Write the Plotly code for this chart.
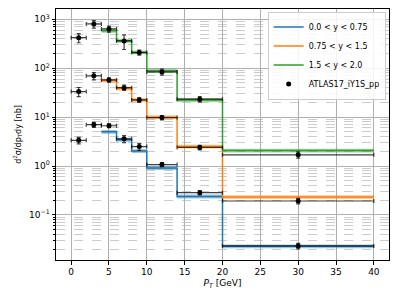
import plotly.graph_objects as go

# Bin edges of the theory histograms
edges = [4, 6, 8, 10, 14, 20, 40]
hist_blue = [5.0, 3.46, 2.02, 0.91, 0.24, 0.023]
hist_orange = [56, 38.4, 22.5, 10.0, 2.5, 0.233]
hist_green = [586, 366, 212, 89, 22.5, 2.08]

# Data points
pt = [1, 3, 5, 7, 9, 12, 17, 30]
pt_err = [1, 1, 1, 1, 1, 2, 3, 10]
data_blue = [3.35, 7.0, 6.67, 3.6, 2.5, 1.07, 0.286, 0.0233]
err_blue = [0.5, 0.8, 0.6, 0.6, 0.4, 0.1, 0.03, 0.003]
data_orange = [33.3, 69.7, 57.7, 40, 22.5, 9.8, 2.4, 0.193]
err_orange = [7, 12, 6, 5, 2.5, 1.0, 0.25, 0.025]
data_green = [421, 802, 634, 361, 209, 84, 23.3, 1.7]
err_green = [90, 140, 90, 120, 25, 12, 3, 0.25]

labels = ["0.0 < y < 0.75", "0.75 < y < 1.5", "1.5 < y < 2.0"]
colors = ["#1f77b4", "#ff7f0e", "#2ca02c"]
bands = ["rgba(31,119,180,0.45)", "rgba(255,127,14,0.45)", "rgba(44,160,44,0.45)"]

fig = go.Figure()

for h, lab, c, b in zip([hist_blue, hist_orange, hist_green], labels, colors, bands):
    y = h + [h[-1]]
    lo = [v * 0.91 for v in y]
    hi = [v * 1.09 for v in y]
    fig.add_trace(go.Scatter(x=edges, y=lo, mode="lines", line=dict(width=0, shape="hv"),
                             showlegend=False, hoverinfo="skip"))
    fig.add_trace(go.Scatter(x=edges, y=hi, mode="lines", line=dict(width=0, shape="hv"),
                             fill="tonexty", fillcolor=b, showlegend=False, hoverinfo="skip"))
    fig.add_trace(go.Scatter(x=edges, y=y, mode="lines", line=dict(color=c, width=1.5, shape="hv"),
                             name=lab))

for i, (d, e) in enumerate([(data_blue, err_blue), (data_orange, err_orange), (data_green, err_green)]):
    fig.add_trace(go.Scatter(
        x=pt, y=d, mode="markers",
        marker=dict(color="black", size=5),
        error_x=dict(type="data", array=pt_err, color="rgba(0,0,0,0.75)", thickness=1.2, width=2),
        error_y=dict(type="data", array=e, color="rgba(0,0,0,0.75)", thickness=1.2, width=2),
        name="ATLAS17_iY1S_pp", legendgroup="data", showlegend=(i == 0)))

fig.update_layout(
    width=399, height=299,
    margin=dict(l=56, r=10, t=9, b=39),
    paper_bgcolor="white", plot_bgcolor="white",
    font=dict(family="DejaVu Sans", size=9, color="black"),
    legend=dict(x=0.99, y=0.99, xanchor="right", yanchor="top",
                bgcolor="rgba(255,255,255,0.85)", bordercolor="#cccccc", borderwidth=1,
                font=dict(size=8), tracegroupgap=0, itemwidth=30),
    showlegend=True,
)
fig.update_xaxes(range=[-2, 42], tickvals=[0, 5, 10, 15, 20, 25, 30, 35, 40], automargin=False,
                 showgrid=True, gridcolor="#b0b0b0", gridwidth=0.8,
                 showline=True, linecolor="black", mirror=True, linewidth=1,
                 ticks="outside", ticklen=3.5, tickcolor="black", zeroline=False,
                 title=dict(text="<i>P<sub>T</sub></i> [GeV]", standoff=3, font=dict(size=9)))
fig.update_yaxes(type="log", range=[-1.92, 3.21], automargin=False,
                 tickvals=[0.1, 1, 10, 100, 1000],
                 ticktext=["10<sup>−1</sup>", "10<sup>0</sup>", "10<sup>1</sup>", "10<sup>2</sup>", "10<sup>3</sup>"],
                 showgrid=True, gridcolor="#b0b0b0", gridwidth=0.8,
                 minor=dict(dtick="D1", showgrid=True, gridcolor="#cccccc", griddash="dash", gridwidth=0.6,
                            ticks="outside", ticklen=2, tickcolor="black"),
                 showline=True, linecolor="black", mirror=True, linewidth=1,
                 ticks="outside", ticklen=3.5, tickcolor="black", zeroline=False,
                 title=dict(text="d<sup>2</sup>σ/dp<sub>T</sub>dy [nb]", standoff=6, font=dict(size=8)))

fig.write_html("out.html", config={"displayModeBar": False},
               post_script="document.body.style.margin='0';document.body.style.overflow='hidden';")
